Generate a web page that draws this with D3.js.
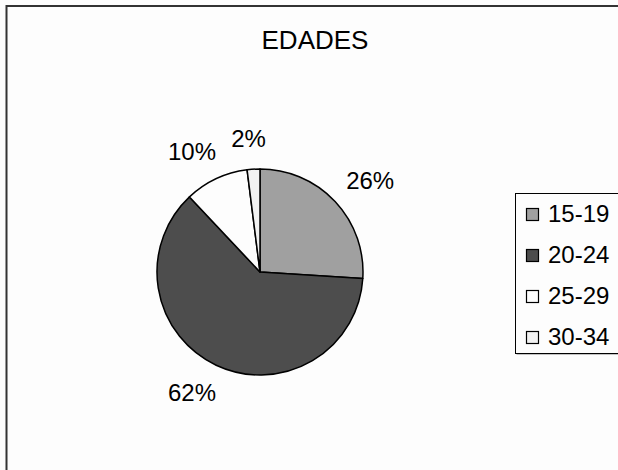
<!DOCTYPE html>
<html><head><meta charset="utf-8">
<script src="https://cdn.jsdelivr.net/npm/d3@7"></script>
<style>html,body{margin:0;padding:0;background:#fdfdfd;}svg{display:block;}</style>
</head><body>
<svg id="c" width="618" height="470"></svg>
<script>
const title = "EDADES";
const categories = ["15-19", "20-24", "25-29", "30-34"];
const values = [26, 62, 10, 2];
const colors = ["#a0a0a0", "#4d4d4d", "#fdfdfd", "#f2f2f2"];

const svg = d3.select("#c");
const font = "'Liberation Sans', Arial, sans-serif";

svg.append("rect").attr("x", 0).attr("y", 0).attr("width", 618).attr("height", 470).attr("fill", "#fdfdfd");
svg.append("rect").attr("x", 6.5).attr("y", 6).attr("width", 700).attr("height", 700)
  .attr("fill", "none").attr("stroke", "#333").attr("stroke-width", 2);

svg.append("text").attr("x", 315).attr("y", 49).attr("text-anchor", "middle")
  .attr("font-family", font).attr("font-size", 26).attr("fill", "#000").text(title);

const cx = 260, cy = 272, r = 103;
const data = categories.map((c, i) => ({cat: c, value: values[i], color: colors[i]}));
const pie = d3.pie().value(d => d.value).sort(null);
const arcs = pie(data);
const arc = d3.arc().innerRadius(0).outerRadius(r);

const g = svg.append("g").attr("transform", `translate(${cx},${cy})`);
g.selectAll("path").data(arcs).join("path")
  .attr("d", arc).attr("fill", d => d.data.color)
  .attr("stroke", "#000").attr("stroke-width", 1.5).attr("stroke-linejoin", "round");

const total = d3.sum(values);
const fs = 24;
g.selectAll("text.lbl").data(arcs).join("text").attr("class", "lbl")
  .each(function(d) {
    const a = (d.startAngle + d.endAngle) / 2;
    const s = Math.sin(a), c = -Math.cos(a);
    const label = Math.round(d.data.value / total * 100) + "%";
    const w = label.length === 2 ? 30 : 48, h = 17;
    const x = (r + 20) * s + (w / 2) * Math.sign(s) * Math.sqrt(Math.abs(s));
    const y = (r + 22) * c + (h / 2) * c;
    d3.select(this).attr("x", x).attr("y", y + h / 2).attr("text-anchor", "middle")
      .attr("font-family", font).attr("font-size", fs).attr("fill", "#000").text(label);
  });

// legend
const lx = 515, ly = 193, lw = 104, lh = 160;
svg.append("rect").attr("x", lx + 1.5).attr("y", ly + 1.5).attr("width", lw).attr("height", lh).attr("fill", "#888");
svg.append("rect").attr("x", lx + 0.5).attr("y", ly + 0.5).attr("width", lw).attr("height", lh)
  .attr("fill", "#fdfdfd").attr("stroke", "#000").attr("stroke-width", 1);
const ys = d3.scalePoint().domain(categories).range([222, 345]);
const lg = svg.append("g");
lg.selectAll("rect.sw").data(data).join("rect").attr("class", "sw")
  .attr("x", 526.5).attr("y", d => ys(d.cat) - 13.5).attr("width", 12).attr("height", 12)
  .attr("fill", d => d.color).attr("stroke", "#000").attr("stroke-width", 1.2);
lg.selectAll("text").data(data).join("text")
  .attr("x", 548).attr("y", d => ys(d.cat))
  .attr("font-family", font).attr("font-size", 24).attr("fill", "#000").text(d => d.cat);
</script>
</body></html>
